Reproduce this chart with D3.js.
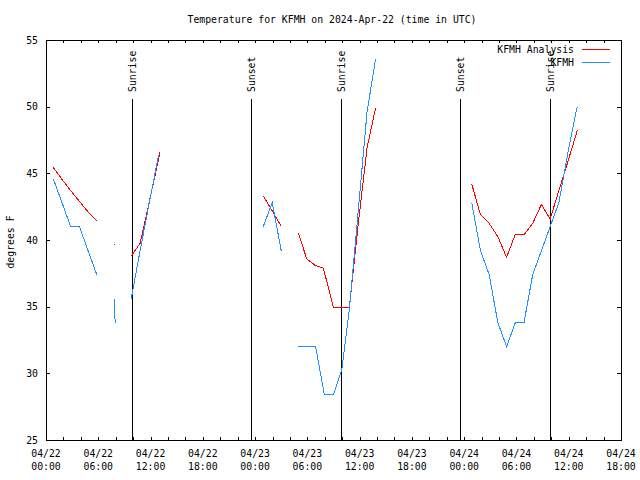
<!DOCTYPE html>
<html><head><meta charset="utf-8">
<script src="https://cdn.jsdelivr.net/npm/d3@7"></script>
<style>
html,body{margin:0;padding:0;background:#fff;}
text{font-family:"DejaVu Sans Mono","Liberation Mono",monospace;font-size:9.8px;fill:#000;}
</style></head>
<body>
<svg id="chart" width="640" height="480"></svg>
<script>
// ---- data ----
const chartTitle = "Temperature for KFMH on 2024-Apr-22 (time in UTC)";
const yLabel = "degrees F";
const seriesNames = ["KFMH Analysis", "KFMH"];
const seriesColors = ["#ff0000", "#1e90ff"];

// KFMH Analysis (null = gap)
const analysisTimes = [
  "2024-04-22T00:50Z","2024-04-22T01:50Z","2024-04-22T02:50Z","2024-04-22T03:50Z","2024-04-22T04:50Z","2024-04-22T05:50Z",
  "2024-04-22T06:50Z",
  "2024-04-22T07:50Z","2024-04-22T07:57Z",
  "2024-04-22T08:50Z",
  "2024-04-22T09:47Z","2024-04-22T10:48Z","2024-04-22T11:48Z","2024-04-22T12:48Z","2024-04-22T13:05Z",
  "2024-04-22T18:00Z",
  "2024-04-23T00:56Z","2024-04-23T01:57Z","2024-04-23T02:58Z",
  "2024-04-23T03:58Z",
  "2024-04-23T04:58Z","2024-04-23T05:55Z","2024-04-23T06:53Z","2024-04-23T07:50Z","2024-04-23T08:59Z","2024-04-23T09:54Z","2024-04-23T10:49Z","2024-04-23T11:51Z","2024-04-23T12:51Z","2024-04-23T13:50Z",
  "2024-04-23T18:00Z",
  "2024-04-24T00:52Z","2024-04-24T01:52Z","2024-04-24T02:52Z","2024-04-24T03:52Z","2024-04-24T04:52Z","2024-04-24T05:52Z","2024-04-24T06:52Z","2024-04-24T07:52Z","2024-04-24T08:52Z","2024-04-24T09:52Z","2024-04-24T10:52Z","2024-04-24T11:52Z","2024-04-24T13:00Z"
];
const analysisTemps = [
  45.45, 44.55, 43.7, 42.9, 42.1, 41.45,
  null,
  39.65, 39.65,
  null,
  38.8, 39.75, 42.7, 45.7, 46.6,
  null,
  43.3, 42.2, 41.07,
  null,
  40.55, 38.6, 38.1, 37.9, 34.95, 34.95, 34.95, 41.25, 46.9, 49.9,
  null,
  44.2, 41.9, 41.25, 40.25, 38.7, 40.43, 40.4, 41.25, 42.67, 41.57, 43.7, 45.8, 48.25
];

// KFMH observations (null = gap)
const obsTimes = [
  "2024-04-22T00:50Z","2024-04-22T01:50Z","2024-04-22T02:50Z","2024-04-22T03:50Z","2024-04-22T04:50Z","2024-04-22T05:50Z",
  "2024-04-22T06:50Z",
  "2024-04-22T07:50Z","2024-04-22T07:51Z","2024-04-22T07:57Z",
  "2024-04-22T08:50Z",
  "2024-04-22T09:47Z","2024-04-22T10:48Z","2024-04-22T11:48Z","2024-04-22T12:56Z",
  "2024-04-22T18:00Z",
  "2024-04-23T00:56Z","2024-04-23T01:58Z","2024-04-23T03:00Z",
  "2024-04-23T03:58Z",
  "2024-04-23T04:58Z","2024-04-23T05:57Z","2024-04-23T06:57Z","2024-04-23T07:57Z","2024-04-23T08:59Z","2024-04-23T09:56Z","2024-04-23T10:49Z","2024-04-23T11:51Z","2024-04-23T12:51Z","2024-04-23T13:50Z",
  "2024-04-23T18:00Z",
  "2024-04-24T00:52Z","2024-04-24T01:52Z","2024-04-24T02:52Z","2024-04-24T03:52Z","2024-04-24T04:52Z","2024-04-24T05:52Z","2024-04-24T06:52Z","2024-04-24T07:52Z","2024-04-24T08:52Z","2024-04-24T09:52Z","2024-04-24T10:52Z","2024-04-24T11:52Z","2024-04-24T12:52Z","2024-04-24T13:00Z"
];
const obsTemps = [
  44.6, 42.8, 41.0, 41.0, 39.2, 37.4,
  null,
  35.6, 34.75, 33.8,
  null,
  35.6, 39.2, 42.6, 46.4,
  null,
  41.0, 42.8, 39.2,
  null,
  32.0, 32.0, 32.0, 28.4, 28.4, 30.2, 34.75, 42.25, 49.6, 53.6,
  null,
  42.8, 39.2, 37.4, 33.8, 32.0, 33.8, 33.8, 37.4, 39.2, 41.0, 42.8, 46.4, 49.7, 50.0
];

const sunLabels = ["Sunrise", "Sunset", "Sunrise", "Sunset", "Sunrise"];
const sunTimes = ["2024-04-22T09:54Z", "2024-04-22T23:31Z", "2024-04-23T09:53Z", "2024-04-23T23:31Z", "2024-04-24T09:52Z"];

const xDomain = ["2024-04-22T00:00Z", "2024-04-24T18:00Z"];
const yDomain = [25, 55];
const yTickValues = [25, 30, 35, 40, 45, 50, 55];

// ---- drawing ----
const svg = d3.select("#chart");
const L = 46, R = 621, T = 40, B = 440;
const parse = d3.isoParse;
const x = d3.scaleUtc().domain(xDomain.map(parse)).range([L, R]);
const y = d3.scaleLinear().domain(yDomain).range([B, T]);

// title
svg.append("text").attr("x", 332).attr("y", 20).attr("dy", "0.35em")
  .attr("text-anchor", "middle").text(chartTitle);

// y label
svg.append("text").attr("transform", "translate(11,242) rotate(-90)")
  .attr("text-anchor", "middle").attr("dy", "0.35em").text(yLabel);

const axisG = svg.append("g").attr("shape-rendering", "crispEdges");

// x tick marks (every 2 h), bottom and top, inward
const tickTimes = d3.utcHour.every(2).range(x.domain()[0], d3.utcHour.offset(x.domain()[1], 1));
axisG.append("g").attr("transform", `translate(0,${B})`)
  .call(d3.axisBottom(x).tickValues(tickTimes).tickSize(-3).tickFormat(""))
  .call(g => g.select(".domain").remove());
axisG.append("g").attr("transform", `translate(0,${T})`)
  .call(d3.axisTop(x).tickValues(tickTimes).tickSize(-3).tickFormat(""))
  .call(g => g.select(".domain").remove());

// x labels every 6 h
const labelTimes = d3.utcHour.every(6).range(x.domain()[0], d3.utcHour.offset(x.domain()[1], 1));
const fmtD = d3.utcFormat("%m/%d"), fmtH = d3.utcFormat("%H:%M");
const xl = svg.append("g").selectAll("g").data(labelTimes).join("g")
  .attr("transform", d => `translate(${x(d)},0)`);
xl.append("text").attr("y", 454).attr("dy", "0.35em").attr("text-anchor", "middle").text(fmtD);
xl.append("text").attr("y", 467).attr("dy", "0.35em").attr("text-anchor", "middle").text(fmtH);

// y ticks left and right
axisG.append("g").attr("transform", `translate(${L},0)`)
  .call(d3.axisLeft(y).tickValues(yTickValues).tickSize(-4).tickPadding(8))
  .call(g => g.select(".domain").remove())
  .call(g => g.selectAll("text").attr("font-family", null).attr("font-size", null));
axisG.append("g").attr("transform", `translate(${R},0)`)
  .call(d3.axisRight(y).tickValues(yTickValues).tickSize(-4).tickFormat(""))
  .call(g => g.select(".domain").remove());

// border
axisG.append("rect").attr("x", L).attr("y", T).attr("width", R - L).attr("height", B - T)
  .attr("fill", "none").attr("stroke", "#000");

// sunrise/sunset lines
const sunG = svg.append("g");
sunTimes.forEach((t, i) => {
  const sx = Math.round(x(parse(t))) + 0.5;
  sunG.append("line").attr("x1", sx).attr("x2", sx).attr("y1", 99).attr("y2", B)
    .attr("stroke", "#000").attr("shape-rendering", "crispEdges");
  sunG.append("text").attr("transform", `translate(${sx},92) rotate(-90)`)
    .attr("text-anchor", "start").attr("dy", "0.35em").text(sunLabels[i]);
});

// series lines
function drawSeries(times, temps, color) {
  const pts = times.map((t, i) => ({ t: parse(t), v: temps[i] }));
  const line = d3.line().defined(d => d.v != null).x(d => x(d.t)).y(d => y(d.v));
  svg.append("path").datum(pts).attr("d", line)
    .attr("fill", "none").attr("stroke", color).attr("stroke-width", 1)
    .attr("shape-rendering", "crispEdges");
}
drawSeries(analysisTimes, analysisTemps, seriesColors[0]);
drawSeries(obsTimes, obsTemps, seriesColors[1]);

// legend
const lg = svg.append("g");
seriesNames.forEach((n, i) => {
  const ly = 49.5 + i * 13;
  lg.append("text").attr("x", 574).attr("y", ly).attr("dy", "0.35em").attr("text-anchor", "end").text(n);
  lg.append("line").attr("x1", 582).attr("x2", 610).attr("y1", ly).attr("y2", ly)
    .attr("stroke", seriesColors[i]).attr("shape-rendering", "crispEdges");
});
</script>
</body></html>
